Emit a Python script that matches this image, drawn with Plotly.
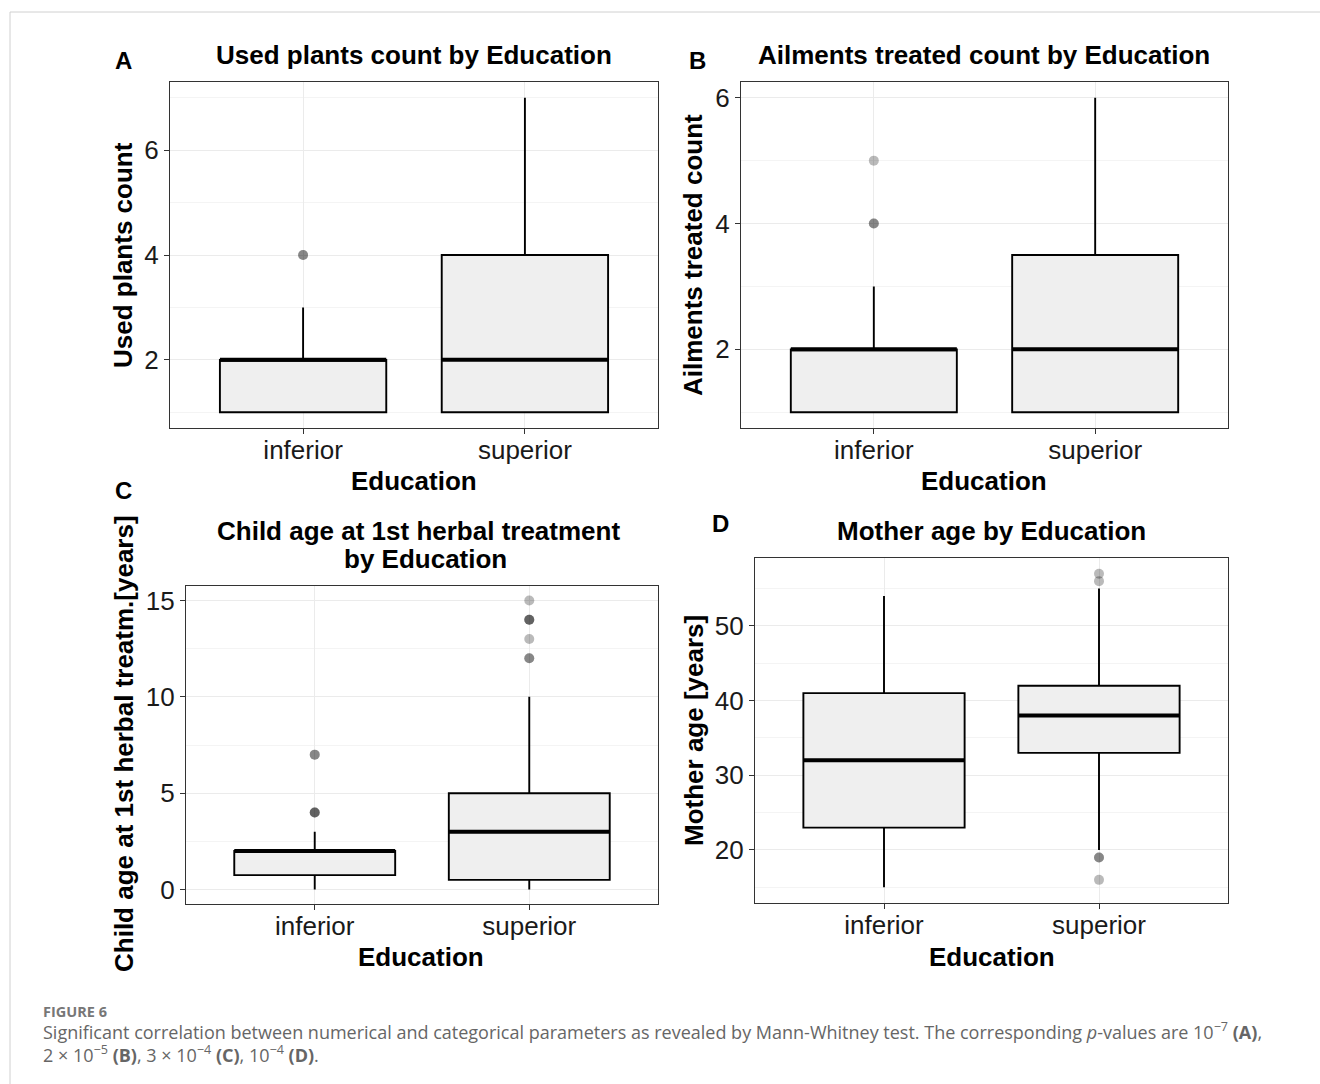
import plotly.graph_objects as go

W, H = 1320, 1084

# ---- data -------------------------------------------------------------
categories = ["inferior", "superior"]

# A: used plants count
plants_q1 = [1, 1]
plants_med = [2, 2]
plants_q3 = [2, 4]
plants_lo = [1, 1]
plants_hi = [3, 7]
plants_out_inf = [4, 4]
plants_out_sup = []

# B: ailments treated count
ail_q1 = [1, 1]
ail_med = [2, 2]
ail_q3 = [2, 3.5]
ail_lo = [1, 1]
ail_hi = [3, 6]
ail_out_inf = [4, 4, 5]
ail_out_sup = []

# C: child age at first herbal treatment
child_q1 = [0.75, 0.5]
child_med = [2, 3]
child_q3 = [2, 5]
child_lo = [0, 0]
child_hi = [3, 10]
child_out_inf = [4, 4, 4, 7, 7]
child_out_sup = [12, 12, 13, 14, 14, 14, 15]

# D: mother age
mom_q1 = [23, 33]
mom_med = [32, 38]
mom_q3 = [41, 42]
mom_lo = [15, 20]
mom_hi = [54, 55]
mom_out_inf = []
mom_out_sup = [16, 19, 19, 56, 57]

y_ticks_a = [2, 4, 6]
y_ticks_b = [2, 4, 6]
y_ticks_c = [0, 5, 10, 15]
y_ticks_d = [20, 30, 40, 50]

# ---- layout geometry (pixels) ----------------------------------------
panels = {
    "A": dict(x0=170, x1=658, y0=82, y1=428),
    "B": dict(x0=741, x1=1228, y0=82, y1=428),
    "C": dict(x0=186, x1=658, y0=586, y1=904),
    "D": dict(x0=755, x1=1228, y0=558, y1=903),
}

FONT = "Liberation Sans, Arial, sans-serif"
TXT = "#1a1a1a"


def px_x(x):
    return x / W


def px_y(y):
    return 1 - y / H


fig = go.Figure()

specs = [
    ("A", "", plants_q1, plants_med, plants_q3, plants_lo, plants_hi,
     plants_out_inf, plants_out_sup, [0.7, 7.3], y_ticks_a, 1, 1),
    ("B", "2", ail_q1, ail_med, ail_q3, ail_lo, ail_hi,
     ail_out_inf, ail_out_sup, [0.75, 6.25], y_ticks_b, 1, 1),
    ("C", "3", child_q1, child_med, child_q3, child_lo, child_hi,
     child_out_inf, child_out_sup, [-0.75, 15.75], y_ticks_c, 0, 2.5),
    ("D", "4", mom_q1, mom_med, mom_q3, mom_lo, mom_hi,
     mom_out_inf, mom_out_sup, [12.9, 59.1], y_ticks_d, 15, 5),
]

for key, ax, q1, med, q3, lo, hi, out_inf, out_sup, yr, yt, m0, mdt in specs:
    xa, ya = "x" + ax, "y" + ax
    # box body with whiskers
    fig.add_trace(go.Box(
        x=categories, q1=q1, median=med, q3=q3,
        lowerfence=lo, upperfence=hi,
        boxpoints=False, width=0.75, whiskerwidth=0,
        fillcolor="#efefef", line=dict(color="#000000", width=1.9),
        xaxis=xa, yaxis=ya, showlegend=False, hoverinfo="skip",
    ))
    # heavier median bar
    fig.add_trace(go.Box(
        x=categories, q1=med, median=med, q3=med,
        lowerfence=med, upperfence=med,
        boxpoints=False, width=0.75, whiskerwidth=0,
        fillcolor="rgba(0,0,0,0)", line=dict(color="#000000", width=4),
        xaxis=xa, yaxis=ya, showlegend=False, hoverinfo="skip",
    ))
    # outliers (semi-transparent, overlapping points darken)
    ox = [categories[0]] * len(out_inf) + [categories[1]] * len(out_sup)
    oy = list(out_inf) + list(out_sup)
    if oy:
        fig.add_trace(go.Scatter(
            x=ox, y=oy, mode="markers",
            marker=dict(size=10, color="rgba(0,0,0,0.27)", line=dict(width=0)),
            xaxis=xa, yaxis=ya, showlegend=False, hoverinfo="skip",
        ))

    p = panels[key]
    axis_common = dict(
        showline=True, mirror=True, linecolor="#333333", linewidth=1.2,
        ticks="outside", ticklen=5, tickwidth=1.2, tickcolor="#333333",
        tickfont=dict(family=FONT, size=26, color=TXT),
        showgrid=True, gridcolor="#ebebeb", gridwidth=1.3,
        zeroline=False,
    )
    fig.layout["xaxis" + ax] = dict(
        axis_common,
        domain=[px_x(p["x0"]), px_x(p["x1"])],
        anchor=ya, type="category", categoryorder="array",
        categoryarray=categories, range=[-0.6, 1.6],
        ticklabelstandoff=-6,
    )
    fig.layout["yaxis" + ax] = dict(
        axis_common,
        domain=[px_y(p["y1"]), px_y(p["y0"])],
        anchor=xa, range=yr, tickvals=yt,
        minor=dict(showgrid=True, gridcolor="#f4f4f4", gridwidth=0.8,
                   tick0=m0, dtick=mdt, ticks=""),
    )

ann = []


def text(x, y, s, size=26, bold=True, color="#000000", angle=0,
         xanchor="center", family=FONT):
    ann.append(dict(
        x=px_x(x), y=px_y(y), xref="paper", yref="paper",
        text=f"<b>{s}</b>" if bold else s, showarrow=False,
        textangle=angle, xanchor=xanchor, yanchor="middle",
        font=dict(family=family, size=size, color=color),
    ))


# panel letters
text(124, 60, "A", size=24)
text(697, 60, "B", size=24)
text(124, 490, "C", size=24)
text(720, 523, "D", size=24)

# panel titles
text(414, 55, "Used plants count by Education")
text(984, 55, "Ailments treated count by Education")
text(418, 531, "Child age at 1st herbal treatment")
text(425, 559, "by Education")
text(992, 531, "Mother age by Education")

# x-axis titles
text(414, 481, "Education")
text(984, 481, "Education")
text(421, 957, "Education")
text(992, 957, "Education")

# y-axis titles
text(123, 255, "Used plants count", angle=-90)
text(693, 255, "Ailments treated count", angle=-90)
text(124, 743, "Child age at 1st herbal treatm.[years]", angle=-90)
text(694, 731, "Mother age [years]", angle=-90)

# figure caption
CAP = "Open Sans, Noto Sans, sans-serif"
text(41, 1011, "FIGURE 6", size=14.5, bold=True, color="#777777",
     xanchor="left", family=CAP)
text(41, 1031,
     "Significant correlation between numerical and categorical parameters "
     "as revealed by Mann-Whitney test. The corresponding <i>p</i>-values are "
     "10<sup>−7</sup> <b>(A)</b>,",
     size=18, bold=False, color="#666666", xanchor="left", family=CAP)
text(41, 1054,
     "2 × 10<sup>−5</sup> <b>(B)</b>, 3 × 10<sup>−4</sup> <b>(C)</b>, "
     "10<sup>−4</sup> <b>(D)</b>.",
     size=18, bold=False, color="#666666", xanchor="left", family=CAP)

fig.update_layout(
    width=W, height=H,
    margin=dict(l=0, r=0, t=0, b=0),
    paper_bgcolor="#ffffff", plot_bgcolor="#ffffff",
    boxmode="overlay", annotations=ann,
    shapes=[
        dict(type="line", xref="paper", yref="paper",
             x0=px_x(10), x1=1, y0=px_y(12), y1=px_y(12),
             line=dict(color="#d0d0d0", width=1)),
        dict(type="line", xref="paper", yref="paper",
             x0=px_x(10), x1=px_x(10), y0=px_y(12), y1=0,
             line=dict(color="#d0d0d0", width=1)),
    ],
)

fig.write_html("out.html")
